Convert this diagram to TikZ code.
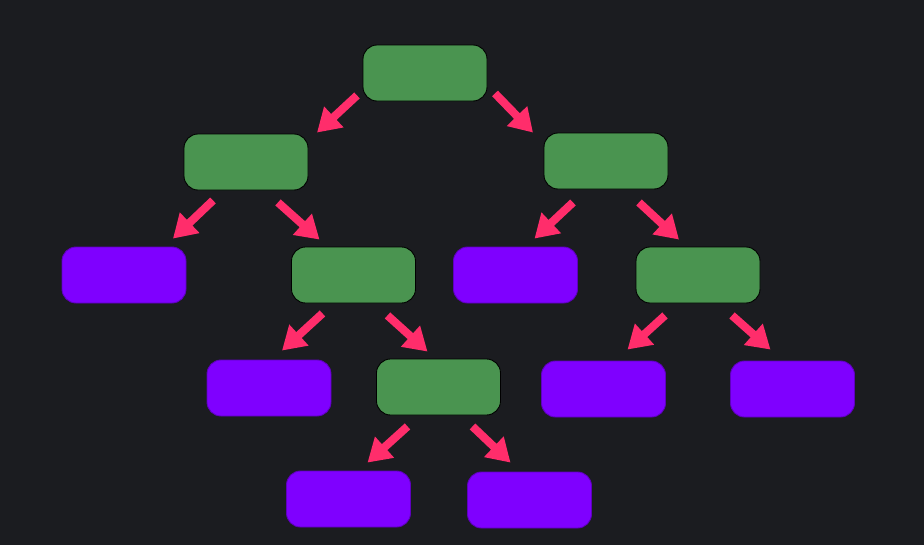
\documentclass[tikz,border=0pt]{standalone}
\usepackage{tikz}
\usetikzlibrary{arrows.meta,positioning,calc}
\definecolor{bgdark}{HTML}{1B1C20}
\definecolor{treegreen}{HTML}{4A9450}
\definecolor{treepurple}{HTML}{7F00FF}
\definecolor{arrpink}{HTML}{FF2D6B}

\begin{document}
\begin{tikzpicture}[
  branch/.style={rectangle,rounded corners=0.28cm,minimum width=2.48cm,
                 minimum height=1.12cm,inner sep=0pt,fill=treegreen,
                 draw=black,line width=0.5pt},
  leaf/.style={rectangle,rounded corners=0.28cm,minimum width=2.48cm,
               minimum height=1.12cm,inner sep=0pt,fill=treepurple,
               draw=treepurple!75!black,line width=0.5pt},
  arr/.style={-{Triangle[length=0.46cm,width=0.54cm]},line width=4.6pt,arrpink}
]

  % ---- Background and frame ----------------------------------
  \fill[bgdark] (0,0) rectangle (18.48,10.9);
  \useasboundingbox (0,0) rectangle (18.48,10.9);

  % ---- Inner (green) nodes -----------------------------------
  \node[branch] (R)   at (8.50, 9.44) {};
  \node[branch] (L)   at (4.92, 7.66) {};
  \node[branch] (RR)  at (12.12,7.68) {};
  \node[branch] (LR)  at (7.07, 5.40) {};
  \node[branch] (RRR) at (13.96,5.40) {};
  \node[branch] (LRR) at (8.77, 3.16) {};

  % ---- Leaves (purple) ---------------------------------------
  \node[leaf] (LA) at (2.48, 5.40) {};
  \node[leaf] (LB) at (10.31,5.40) {};
  \node[leaf] (LC) at (5.38, 3.14) {};
  \node[leaf] (LD) at (12.07,3.12) {};
  \node[leaf] (LE) at (15.85,3.12) {};
  \node[leaf] (LF) at (6.97, 0.92) {};
  \node[leaf] (LG) at (10.59,0.90) {};

  % ---- Arrows from the root ----------------------------------
  \draw[arr] ($(R.south)+(-1.36,0.12)$) -- ($(L.north)+(1.42,0.02)$);
  \draw[arr] ($(R.south)+(1.40,0.16)$)  -- ($(RR.north)+(-1.46,0)$);

  % ---- Second level ------------------------------------------
  \draw[arr] ($(L.south)+(-0.66,-0.20)$)  -- ($(LA.north)+(0.98,0.16)$);
  \draw[arr] ($(L.south)+(0.64,-0.24)$)   -- ($(LR.north)+(-0.68,0.14)$);
  \draw[arr] ($(RR.south)+(-0.66,-0.26)$) -- ($(LB.north)+(0.38,0.16)$);
  \draw[arr] ($(RR.south)+(0.66,-0.26)$)  -- ($(RRR.north)+(-0.38,0.14)$);

  % ---- Third level -------------------------------------------
  \draw[arr] ($(LR.south)+(-0.62,-0.20)$)  -- ($(LC.north)+(0.26,0.18)$);
  \draw[arr] ($(LR.south)+(0.68,-0.24)$)   -- ($(LRR.north)+(-0.22,0.14)$);
  \draw[arr] ($(RRR.south)+(-0.66,-0.24)$) -- ($(LD.north)+(0.48,0.22)$);
  \draw[arr] ($(RRR.south)+(0.68,-0.24)$)  -- ($(LE.north)+(-0.44,0.22)$);

  % ---- Fourth level ------------------------------------------
  \draw[arr] ($(LRR.south)+(-0.62,-0.22)$) -- ($(LF.north)+(0.38,0.16)$);
  \draw[arr] ($(LRR.south)+(0.68,-0.22)$)  -- ($(LG.north)+(-0.38,0.18)$);

\end{tikzpicture}
\end{document}
